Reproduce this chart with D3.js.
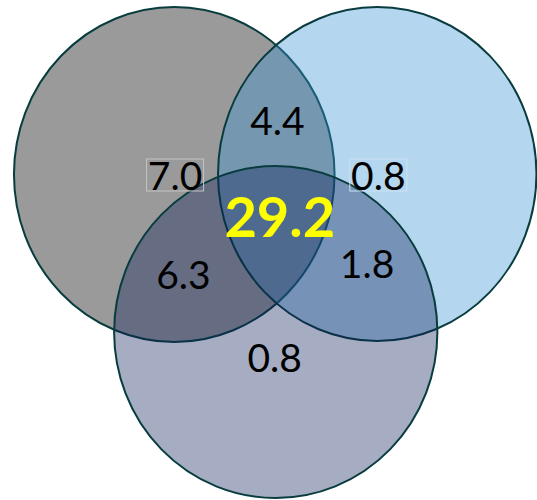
<!DOCTYPE html>
<html>
<head>
<meta charset="utf-8">
<script src="https://cdn.jsdelivr.net/npm/d3@7"></script>
<style>
  html, body { margin: 0; padding: 0; background: #fff; }
  svg { display: block; }
</style>
</head>
<body>
<div id="chart"></div>
<script>
// Three overlapping sets and the share in each region of the diagram
const sets = ["A", "B", "C"];
const regionKeys = ["A", "A&B", "B", "A&B&C", "A&C", "B&C", "C"];
const regionValues = [7.0, 4.4, 0.8, 29.2, 6.3, 1.8, 0.8];

const width = 537, height = 500;

const svg = d3.select("#chart").append("svg")
  .attr("width", width)
  .attr("height", height);

// Layout space: unit coordinates mapped onto the page
const x = d3.scaleLinear().domain([0, 1]).range([0, width]);
const y = d3.scaleLinear().domain([0, 1]).range([0, height]);

// Circle geometry (slightly elliptical as drawn)
const geom = {
  A: { cx: 0.3245, cy: 0.349, rx: 0.2985, ry: 0.335 },
  B: { cx: 0.7025, cy: 0.348, rx: 0.2965, ry: 0.334 },
  C: { cx: 0.5135, cy: 0.664, rx: 0.301, ry: 0.332 }
};
const style = {
  A: { fill: "#9a9a9a", opacity: 1 },
  B: { fill: "rgb(58,147,210)", opacity: 0.38 },
  C: { fill: "rgb(12,31,88)", opacity: 0.366 }
};

const g = svg.append("g");
sets.forEach(k => {
  const c = geom[k];
  g.append("ellipse")
    .attr("cx", x(c.cx))
    .attr("cy", y(c.cy))
    .attr("rx", x(c.rx))
    .attr("ry", y(c.ry))
    .attr("fill", style[k].fill)
    .attr("fill-opacity", style[k].opacity)
    .attr("stroke", "#083c3e")
    .attr("stroke-width", 2);
});

// Label anchor positions for each region (text centre x, baseline y)
const labelPos = {
  "A":     [0.326, 0.380],
  "A&B":   [0.5165, 0.270],
  "B":     [0.7045, 0.380],
  "A&B&C": [0.521, 0.474],
  "A&C":   [0.3415, 0.578],
  "B&C":   [0.6835, 0.556],
  "C":     [0.5115, 0.744]
};

const labels = regionKeys.map((k, i) => ({ key: k, value: regionValues[i] }));

const lg = svg.append("g")
  .attr("font-family", "Lato, 'Open Sans', sans-serif")
  .attr("text-anchor", "middle");

lg.selectAll("text")
  .data(labels)
  .join("text")
  .attr("x", d => x(labelPos[d.key][0]))
  .attr("y", d => y(labelPos[d.key][1]))
  .attr("font-size", d => d.key === "A&B&C" ? 56 : 39)
  .attr("font-weight", d => d.key === "A&B&C" ? 700 : 400)
  .attr("fill", d => d.key === "A&B&C" ? "#ffff00" : "#000")
  .text(d => d.value.toFixed(1));

// Thin text-box outlines around two of the labels
const boxed = [{ key: "A", stroke: "#c4c4c4" }, { key: "B", stroke: "#cde2f2" }];
lg.selectAll("rect.box")
  .data(boxed)
  .join("rect")
  .attr("class", "box")
  .attr("x", d => x(labelPos[d.key][0]) - 28.5)
  .attr("y", d => y(labelPos[d.key][1]) - 31)
  .attr("width", 57)
  .attr("height", 32)
  .attr("fill", "none")
  .attr("stroke", d => d.stroke)
  .attr("stroke-width", 1);
</script>
</body>
</html>
